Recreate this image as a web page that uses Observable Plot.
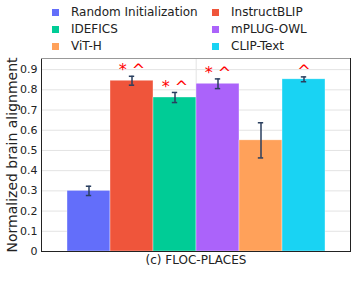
<!DOCTYPE html>
<html>
<head>
<meta charset="utf-8">
<script src="https://cdn.jsdelivr.net/npm/d3@7"></script>
<script src="https://cdn.jsdelivr.net/npm/@observablehq/plot@0.6"></script>
<style>
  body { margin: 0; background: #fff; font-family: "DejaVu Sans", Verdana, sans-serif; }
  #wrap { width: 351px; height: 288px; position: relative; overflow: hidden; }
  #legend { position: relative; height: 52px; }
  .item { position: absolute; display: flex; align-items: center; font-size: 12px; color: #222; white-space: nowrap; line-height: 14px; }
  .sw { width: 7px; height: 7px; margin-right: 12px; }
  svg { display: block; overflow: visible; }
</style>
</head>
<body>
<div id="wrap">
  <div id="legend"></div>
  <div id="chart"></div>
</div>
<script>
const models = ["Random Initialization", "InstructBLIP", "IDEFICS", "mPLUG-OWL", "ViT-H", "CLIP-Text"];
const colors = ["#636EFA", "#EF553B", "#00CC96", "#AB63FA", "#FFA15A", "#19D3F3"];
const values = [0.300, 0.845, 0.762, 0.830, 0.550, 0.852];
const errors = [0.023, 0.022, 0.025, 0.024, 0.087, 0.012];
const marks  = ["", "* ^", "* ^", "* ^", "", "^"];
const yTicks = [0, 0.1, 0.2, 0.3, 0.4, 0.5, 0.6, 0.7, 0.8, 0.9];
const yMax = 0.955;
const caption = "(c) FLOC-PLACES";
const yTitle = "Normalized brain alignment";

const rows = models.map((m, i) => ({model: m, value: values[i], lo: values[i] - errors[i], hi: values[i] + errors[i], sig: marks[i]}));

// legend: two columns, three rows (row-major as in reference)
const legend = document.getElementById("legend");
models.forEach((m, i) => {
  const col = i % 2, row = Math.floor(i / 2);
  const el = document.createElement("div");
  el.className = "item";
  el.style.left = (col === 0 ? 52 : 212) + "px";
  el.style.top = (5 + row * 17) + "px";
  el.innerHTML = `<span class="sw" style="background:${colors[i]}"></span><span>${m}</span>`;
  legend.appendChild(el);
});

const W = 351, H = 236, mL = 41, mR = 1, mT = 6, mB = 37;
const padOuter = 0.54;
const bw = (W - mL - mR) / (models.length + 2 * padOuter);

const chart = Plot.plot({
  width: W, height: H,
  marginLeft: mL, marginRight: mR, marginTop: mT, marginBottom: mB,
  style: {fontFamily: "DejaVu Sans, Verdana, sans-serif", background: "white", color: "#222", overflow: "visible"},
  x: {domain: models, paddingInner: 0, paddingOuter: padOuter, axis: null},
  y: {domain: [0, yMax], axis: null},
  color: {domain: models, range: colors},
  marks: [
    Plot.gridY(yTicks, {stroke: "#e3e3e3", strokeOpacity: 1}),
    Plot.ruleX([models[3]], {x: d => d, dx: -bw / 2, stroke: "#e3e3e3"}),
    Plot.barY(rows, {x: "model", y: "value", fill: "model", stroke: "white", strokeWidth: 0.6, strokeOpacity: 0.6}),
    Plot.ruleX(rows, {x: "model", y1: "lo", y2: "hi", stroke: "#2a3f5f", strokeWidth: 1.5}),
    Plot.tickY(rows, {x: "model", y: "hi", stroke: "#2a3f5f", strokeWidth: 1.5, insetLeft: bw / 2 - 3, insetRight: bw / 2 - 3}),
    Plot.tickY(rows, {x: "model", y: "lo", stroke: "#2a3f5f", strokeWidth: 1.5, insetLeft: bw / 2 - 3, insetRight: bw / 2 - 3}),
    Plot.text(rows.filter(d => d.sig), {x: "model", y: "hi", text: "sig", fill: "red", fontSize: 16, dy: -6}),
    Plot.frame({stroke: "#222", strokeWidth: 1}),
    Plot.ruleY([yMax], {stroke: "#999", strokeWidth: 1}),
    Plot.axisY(yTicks, {tickSize: 0, tickPadding: 4, fontSize: 11, label: null, tickFormat: d => d === 0 ? "0" : d.toFixed(1)}),
    Plot.text([yTitle], {frameAnchor: "left", textAnchor: "middle", text: d => d, rotate: -90, dx: -29, fontSize: 14, fill: "#222"}),
    Plot.text([caption], {frameAnchor: "bottom", textAnchor: "middle", text: d => d, dy: 12, fontSize: 12, fill: "#222"})
  ]
});
document.getElementById("chart").appendChild(chart);
</script>
</body>
</html>
